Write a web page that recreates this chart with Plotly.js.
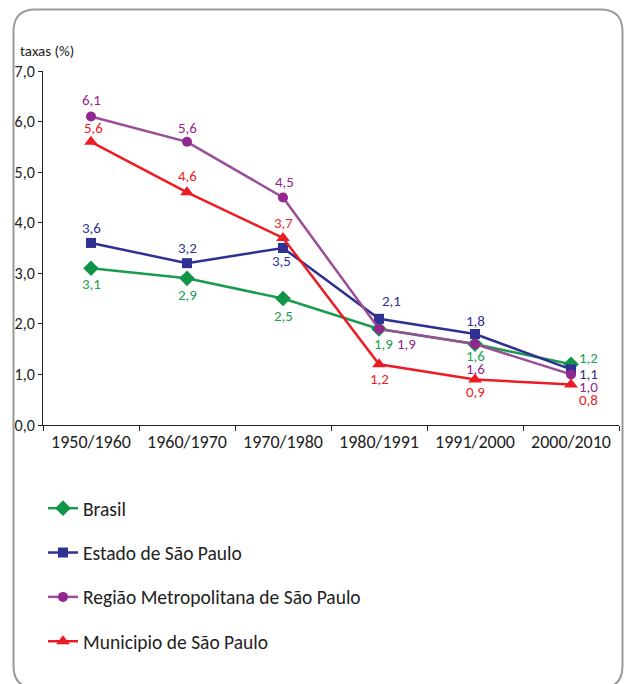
<!DOCTYPE html>
<html>
<head>
<meta charset="utf-8">
<script src="https://cdn.plot.ly/plotly-3.0.1.min.js"></script>
<style>
html,body{margin:0;padding:0;background:#fff;}
#chart{width:624px;height:684px;}
</style>
</head>
<body>
<div id="chart"></div>
<script>
// ---- data ----
const periods = ["1950/1960", "1960/1970", "1970/1980", "1980/1991", "1991/2000", "2000/2010"];
const seriesNames = ["Brasil", "Estado de São Paulo", "Região Metropolitana de São Paulo", "Municipio de São Paulo"];
const brasil = [3.1, 2.9, 2.5, 1.9, 1.6, 1.2];
const estadoSP = [3.6, 3.2, 3.5, 2.1, 1.8, 1.1];
const regiaoMetSP = [6.1, 5.6, 4.5, 1.9, 1.6, 1.0];
const municipioSP = [5.6, 4.6, 3.7, 1.2, 0.9, 0.8];
const yTickValues = [0, 1, 2, 3, 4, 5, 6, 7];
const yAxisLabel = "taxas (%)";

// ---- styles ----
const FONT = "Carlito, 'Open Sans', sans-serif";
const styles = [
  {line: "#1a9b4e", marker: "#109447", symbol: "diamond", size: 12, text: "#18a04f"},
  {line: "#2e3192", marker: "#2e3192", symbol: "square", size: 10, text: "#2e3192"},
  {line: "#9b4d98", marker: "#92278f", symbol: "circle", size: 10, text: "#93278f"},
  {line: "#ed1c24", marker: "#ed1c24", symbol: "triangle-up", size: 12, text: "#ed1c24"}
];
// label offsets in screen pixels [dx, dy] (dy positive = down)
const labelOffsets = [
  [[0,16],[0,17],[0,17],[4,15],[0,12],[17,-6]],
  [[0,-15],[0,-15],[-2,13],[12,-18],[0,-13],[17,5]],
  [[0,-17],[0,-14],[1,-15],[27,15],[0,25],[17,13]],
  [[2,-14],[0,-16],[0,-15],[0,15],[0,13],[17,15]]
];

const allSeries = [brasil, estadoSP, regiaoMetSP, municipioSP];

const traces = allSeries.map((vals, i) => ({
  type: "scatter",
  mode: "lines+markers",
  x: periods,
  y: vals,
  name: seriesNames[i],
  legendgroup: "g" + i,
  line: {color: styles[i].line, width: 2.5},
  marker: {color: styles[i].marker, symbol: styles[i].symbol, size: styles[i].size},
  hoverinfo: "x+y+name"
}));

const fmt = v => v.toFixed(1).replace(".", ",");
const annotations = [];
allSeries.forEach((vals, i) => {
  vals.forEach((v, j) => {
    annotations.push({
      x: periods[j], y: v, xref: "x", yref: "y",
      text: fmt(v), showarrow: false,
      xshift: labelOffsets[i][j][0], yshift: -labelOffsets[i][j][1],
      font: {family: FONT, size: 15, color: styles[i].text}
    });
  });
});

// pixel -> paper helpers (plot area: left 43, right 619, top 71, bottom 425)
const PL = 43, PW = 576, PB = 425, PH = 354;
const px = v => (v - PL) / PW;
const py = v => (PB - v) / PH;

annotations.push({
  x: px(18), y: py(51), xref: "paper", yref: "paper",
  xanchor: "left", yanchor: "middle",
  text: yAxisLabel, showarrow: false,
  font: {family: FONT, size: 15, color: "#222"}
});

// rounded frame
const L = 13.5, T = 9.5, R = 622.5, B = 688, r = 22;
const framePath =
  `M ${px(L)},${py(T + r)} Q ${px(L)},${py(T)} ${px(L + r)},${py(T)} ` +
  `L ${px(R - r)},${py(T)} Q ${px(R)},${py(T)} ${px(R)},${py(T + r)} ` +
  `L ${px(R)},${py(B - r)} Q ${px(R)},${py(B)} ${px(R - r)},${py(B)} ` +
  `L ${px(L + r)},${py(B)} Q ${px(L)},${py(B)} ${px(L)},${py(B - r)} Z`;

const layout = {
  width: 624, height: 684,
  margin: {l: PL, r: 624 - PL - PW, t: 71, b: 684 - PB, pad: 0},
  paper_bgcolor: "#fff", plot_bgcolor: "#fff",
  separators: ",.",
  font: {family: FONT, color: "#222"},
  showlegend: true,
  legend: {
    orientation: "v", x: px(43), y: py(489), xanchor: "left", yanchor: "top",
    font: {family: FONT, size: 19.5, color: "#222"},
    tracegroupgap: 16, bgcolor: "rgba(0,0,0,0)", borderwidth: 0
  },
  xaxis: {
    type: "category", range: [-0.5, 5.5],
    showline: true, linecolor: "#222", linewidth: 1,
    ticks: "outside", tickson: "boundaries", ticklen: 5, tickcolor: "#222",
    tickfont: {family: FONT, size: 18, color: "#222"},
    showgrid: false, zeroline: false, fixedrange: true
  },
  yaxis: {
    range: [0, 7], tickvals: yTickValues, tickformat: ".1f",
    showline: true, linecolor: "#222", linewidth: 1,
    ticks: "outside", ticklen: 4, tickcolor: "#222",
    tickfont: {family: FONT, size: 16, color: "#222"},
    showgrid: false, zeroline: false, fixedrange: true
  },
  annotations: annotations,
  shapes: [{
    type: "path", xref: "paper", yref: "paper", path: framePath,
    line: {color: "#9a9a9a", width: 2}, fillcolor: "rgba(0,0,0,0)", layer: "below"
  }]
};

Plotly.newPlot("chart", traces, layout, {displayModeBar: false, staticPlot: true});
</script>
</body>
</html>
